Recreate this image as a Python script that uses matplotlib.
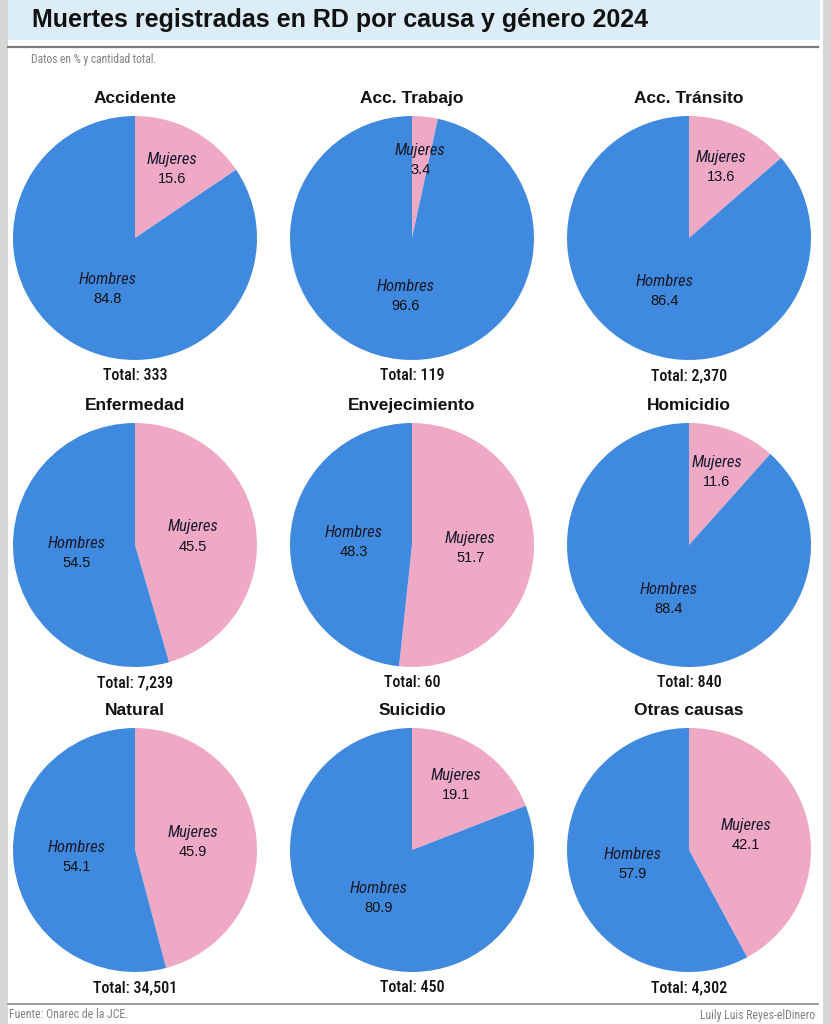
import matplotlib.pyplot as plt
import numpy as np
from matplotlib.patches import Rectangle
from matplotlib import font_manager

# Datos
causas = ['Accidente', 'Acc. Trabajo', 'Acc. Tránsito',
          'Enfermedad', 'Envejecimiento', 'Homicidio',
          'Natural', 'Suicidio', 'Otras causas']
mujeres = [15.6, 3.4, 13.6, 45.5, 51.7, 11.6, 45.9, 19.1, 42.1]
hombres = [84.8, 96.6, 86.4, 54.5, 48.3, 88.4, 54.1, 80.9, 57.9]
totales = [333, 119, 2370, 7239, 60, 840, 34501, 450, 4302]

azul = '#3f8ade'
rosa = '#f0a9c5'


def fuente(*cands):
    nombres = {f.name for f in font_manager.fontManager.ttflist}
    for c in cands:
        if c in nombres:
            return [c, 'DejaVu Sans']
    return ['DejaVu Sans']


cond = fuente('Roboto Condensed', 'Liberation Sans Narrow', 'Liberation Sans')
arial = fuente('Liberation Sans', 'Arial')
plt.rcParams['font.family'] = cond

W, H = 831, 1024
fig = plt.figure(figsize=(W / 100, H / 100), dpi=100, facecolor='#d6d6d6')

# Panel blanco y banda del titulo
fig.patches.append(Rectangle((8 / W, 0), 815 / W, 1, transform=fig.transFigure,
                             facecolor='white', edgecolor='none', zorder=-2))
fig.patches.append(Rectangle((8 / W, 1 - 40 / H), 812 / W, 40 / H, transform=fig.transFigure,
                             facecolor='#dcedf8', edgecolor='none', zorder=-1))
fig.add_artist(plt.Line2D([8 / W, 818 / W], [1 - 47 / H, 1 - 47 / H],
                          color='#7a7a7a', lw=1.6))
fig.add_artist(plt.Line2D([8 / W, 818 / W], [1 - 1004 / H, 1 - 1004 / H],
                          color='#8a8a8a', lw=1.2))

fig.text(32 / W, 1 - 20 / H, 'Muertes registradas en RD por causa y género 2024',
         fontsize=18, fontweight='bold', family=arial, va='center', ha='left',
         color='#111111')
fig.text(31 / W, 1 - 60 / H, 'Datos en % y cantidad total.', fontsize=8.3,
         color='#808080', va='center')
fig.text(9 / W, 1 - 1015 / H, 'Fuente: Onarec de la JCE.', fontsize=8.5,
         color='#808080', va='center')
fig.text(815 / W, 1 - 1015 / H, 'Luily Luis Reyes-elDinero', fontsize=8.5,
         color='#808080', va='center', ha='right')

cx = [135, 412, 689]
cy = [238, 545, 850]
r = 122

for i, causa in enumerate(causas):
    fila, col = divmod(i, 3)
    ax = fig.add_axes([(cx[col] - r) / W, 1 - (cy[fila] + r) / H, 2 * r / W, 2 * r / H])
    ax.set_zorder(3)
    wedges, _ = ax.pie([mujeres[i], hombres[i]], colors=[rosa, azul],
                       startangle=90, counterclock=False, radius=1)
    ax.set_xlim(-1, 1)
    ax.set_ylim(-1, 1)
    ax.set_aspect('equal')
    ax.axis('off')

    for w, nombre, val in zip(wedges, ['Mujeres', 'Hombres'], [mujeres[i], hombres[i]]):
        # etiquetas mas cerca del centro en las porciones grandes
        d = 0.64 if val < 30 else 0.48
        ang = np.deg2rad((w.theta1 + w.theta2) / 2)
        x, y = d * np.cos(ang), d * np.sin(ang)
        ax.text(x, y + 0.08, nombre, ha='center', va='center', fontsize=12,
                style='italic', color='#1a1a2e')
        ax.text(x, y - 0.08, f'{val}', ha='center', va='center', fontsize=10.5,
                family=arial, color='#111111')

    ax.text(0, 1.14, causa, ha='center', va='center', fontsize=12.5,
            fontweight='bold', family=arial, color='#111111', clip_on=False)
    ax.text(0, -1.13, f'Total: {totales[i]:,}', ha='center', va='center',
            fontsize=11.5, fontweight=500, color='#111111', clip_on=False)

fig.savefig('out.png', dpi=100, facecolor=fig.get_facecolor())
